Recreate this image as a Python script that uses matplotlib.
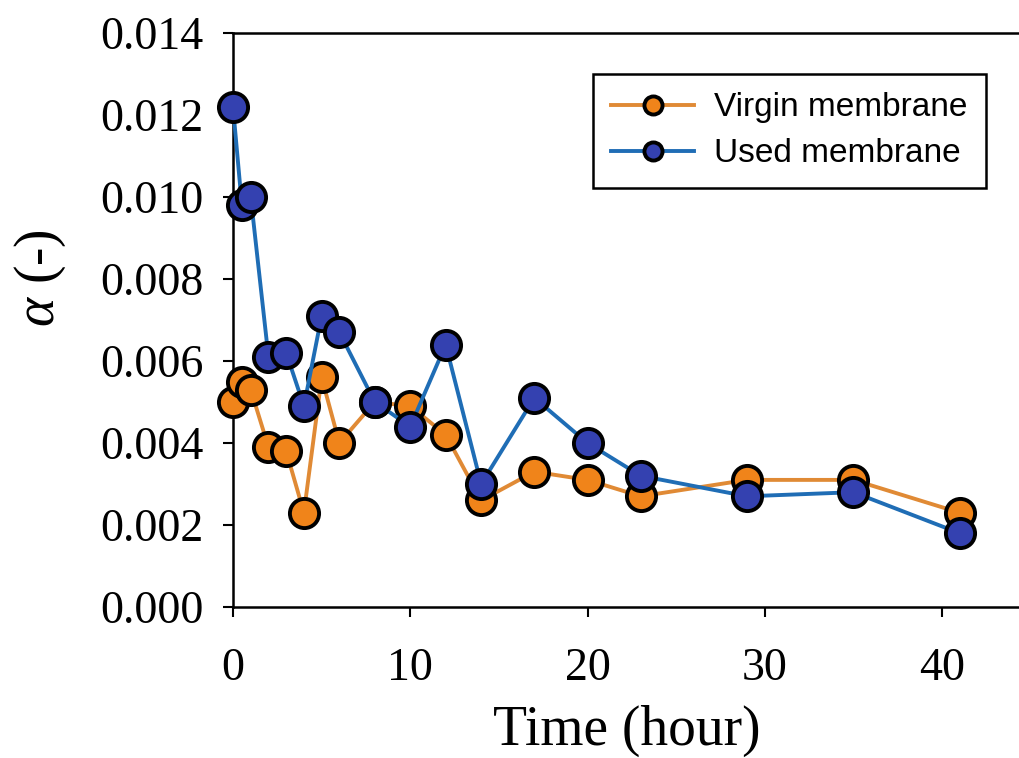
import matplotlib.pyplot as plt

plt.rcParams['font.family'] = 'Liberation Serif'
plt.rcParams['mathtext.fontset'] = 'custom'
plt.rcParams['mathtext.it'] = 'Liberation Serif:italic'
plt.rcParams['mathtext.rm'] = 'Liberation Serif'

# sampling times (hours) and alpha values
time_h = [0, 0.5, 1, 2, 3, 4, 5, 6, 8, 10, 12, 14, 17, 20, 23, 29, 35, 41]
alpha_virgin = [0.0050, 0.0055, 0.0053, 0.0039, 0.0038, 0.0023, 0.0056, 0.0040, 0.0050,
                0.0049, 0.0042, 0.0026, 0.0033, 0.0031, 0.0027, 0.0031, 0.0031, 0.0023]
alpha_used = [0.0122, 0.0098, 0.0100, 0.0061, 0.0062, 0.0049, 0.0071, 0.0067, 0.0050,
              0.0044, 0.0064, 0.0030, 0.0051, 0.0040, 0.0032, 0.0027, 0.0028, 0.0018]
labels = ['Virgin membrane', 'Used membrane']

fig = plt.figure(figsize=(10.2, 7.58), dpi=100)
ax = fig.add_axes([233 / 1020, 151 / 758, 787 / 1020, 574 / 758])

ax.plot(time_h, alpha_virgin, '-o', color='#E08A35', lw=2.8, ms=21,
        mfc='#F0841A', mec='black', mew=2.8, label=labels[0], zorder=3, clip_on=False)
ax.plot(time_h, alpha_used, '-o', color='#1F6DB5', lw=2.8, ms=21,
        mfc='#3441B0', mec='black', mew=2.8, label=labels[1], zorder=4, clip_on=False)

ax.set_xlim(0, 44.4)
ax.set_ylim(0, 0.014)
ax.set_xticks([0, 10, 20, 30, 40])
ax.set_yticks([0.000, 0.002, 0.004, 0.006, 0.008, 0.010, 0.012, 0.014])
ax.set_yticklabels(['0.000', '0.002', '0.004', '0.006', '0.008', '0.010', '0.012', '0.014'])
ax.tick_params(direction='out', length=7, width=1.5, labelsize=33)
ax.tick_params(axis='x', pad=22)
ax.tick_params(axis='y', pad=14)
ax.spines['right'].set_visible(False)
for s in ['left', 'top', 'bottom']:
    ax.spines[s].set_linewidth(1.8)

ax.set_xlabel('Time (hour)', fontsize=40, labelpad=11)
fig.text(40 / 1020, 1 - 278 / 758, r'$\alpha$ (-)', fontsize=40, rotation=90,
         ha='center', va='center')

leg = ax.legend(loc='upper right', bbox_to_anchor=(986 / 1020, 1 - 74 / 758),
                bbox_transform=fig.transFigure, borderaxespad=0, fancybox=False,
                edgecolor='black', framealpha=1, markerscale=0.62, handlelength=2.5,
                prop={'family': 'Liberation Sans', 'size': 24}, labelspacing=0.45,
                borderpad=0.55, handletextpad=0.6)
leg.get_frame().set_linewidth(1.8)

fig.savefig('out.png', dpi=100)
